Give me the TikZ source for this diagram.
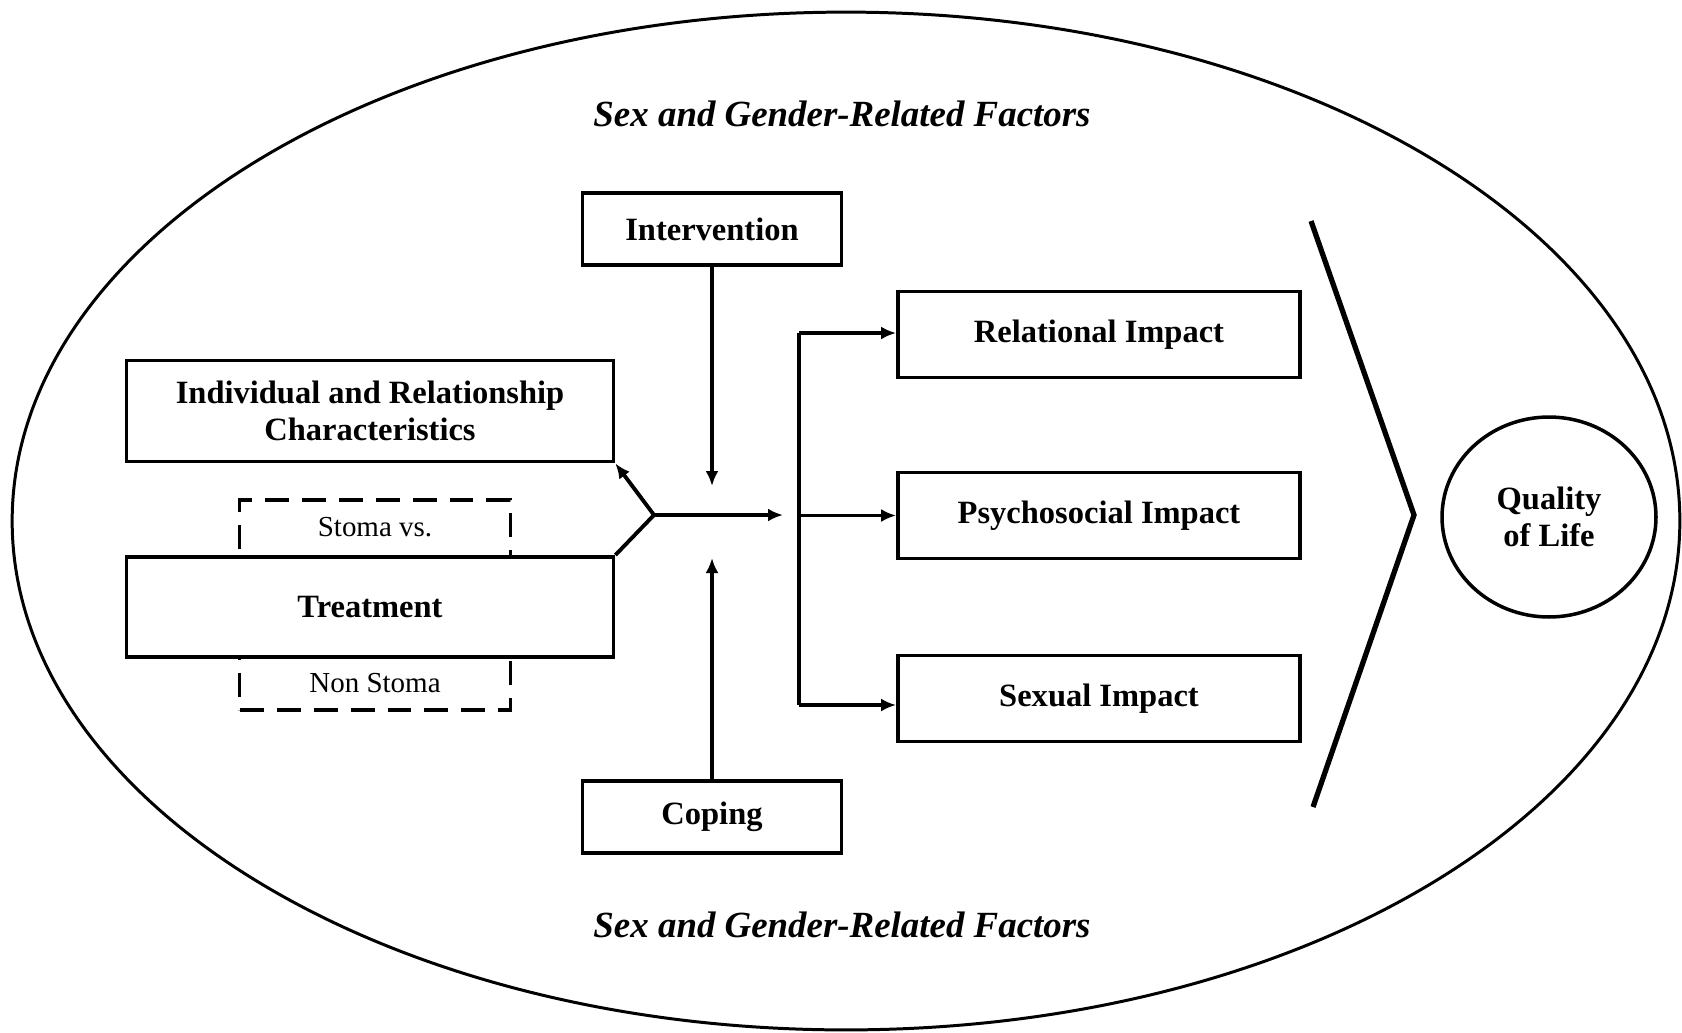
\documentclass[tikz,border=0pt]{standalone}
\usepackage{fontspec}
\setmainfont{Liberation Serif}
\usetikzlibrary{arrows.meta,shapes.geometric}

\newcommand{\boxfont}{\fontsize{18.5}{21.3}\selectfont\bfseries}
\newcommand{\subfont}{\fontsize{16.5}{19}\selectfont}
\newcommand{\titlefont}{\fontsize{21}{24}\selectfont\bfseries\itshape}

\tikzset{
  factorbox/.style={draw, line width=2.2pt, fill=white, inner sep=0pt, align=center, font=\boxfont},
  impactbox/.style={factorbox, minimum width=8.04cm, minimum height=1.72cm},
  link/.style={line width=2.2pt},
  arrow/.style={link, -{Latex[length=3mm, width=2.6mm]}}
}

\begin{document}
\begin{tikzpicture}[x=0.02cm, y=-0.02cm]
  \useasboundingbox (0,0) rectangle (1682,1032);

  % -- Outer context --
  \draw[line width=1.7pt] (846,521) ellipse [x radius=16.68cm, y radius=10.18cm];
  \node[font=\titlefont] (sgtop) at (842,114) {Sex and Gender-Related Factors};
  \node[font=\titlefont] (sgbot) at (842,925) {Sex and Gender-Related Factors};

  % -- Input boxes --
  \node[factorbox, minimum width=5.18cm, minimum height=1.44cm] (interv) at (712,229) {Intervention};
  \node[factorbox, minimum width=5.18cm, minimum height=1.44cm] (coping) at (712,817) {Coping};
  \node[factorbox, minimum width=9.74cm, minimum height=2.02cm] (indiv) at (370,411) {Individual and Relationship\\Characteristics};

  % -- Treatment with stoma split --
  \node[draw, line width=2.2pt, dash pattern=on 0.48cm off 0.26cm, minimum width=5.42cm, minimum height=4.2cm] (stoma) at (375,605) {};
  \node[font=\subfont] (stomavs) at (375,527) {Stoma vs.};
  \node[font=\subfont] (nonstoma) at (375,683) {Non Stoma};
  \node[factorbox, minimum width=9.74cm, minimum height=2cm] (treat) at (370,607) {Treatment};

  % -- Merging arrows --
  \coordinate (fork) at (654,515);
  \coordinate (merge) at (783,515);
  \coordinate (intend) at (712,486);
  \coordinate (copend) at (712,558);
  \draw[link] (treat.north east) -- (fork);
  \draw[arrow] (fork) -- (indiv.south east);
  \draw[arrow] (fork) -- (merge);
  \draw[arrow] (interv.south) -- (intend);
  \draw[arrow] (coping.north) -- (copend);

  % -- Impact boxes --
  \node[impactbox] (relat) at (1099,334.5) {Relational Impact};
  \node[impactbox] (psych) at (1099,515.5) {Psychosocial Impact};
  \node[impactbox] (sexual) at (1099,698.5) {Sexual Impact};

  % -- Branching --
  \coordinate (brtop) at (799,333);
  \coordinate (brbot) at (799,705);
  \draw[link] (brtop) -- (brbot);
  \draw[arrow] (brtop) -- (brtop -| relat.west);
  \draw[arrow] (brtop |- psych.west) -- (psych.west);
  \draw[arrow] (brbot) -- (brbot -| sexual.west);

  % -- Outcome --
  \draw[line width=3pt] (1311,221) -- (1414,515) -- (1313,807);
  \node[draw, ellipse, line width=2pt, inner sep=0pt, minimum width=4.28cm, minimum height=4cm, align=center, font=\boxfont] (qol) at (1549,517) {Quality\\of Life};

\end{tikzpicture}
\end{document}
